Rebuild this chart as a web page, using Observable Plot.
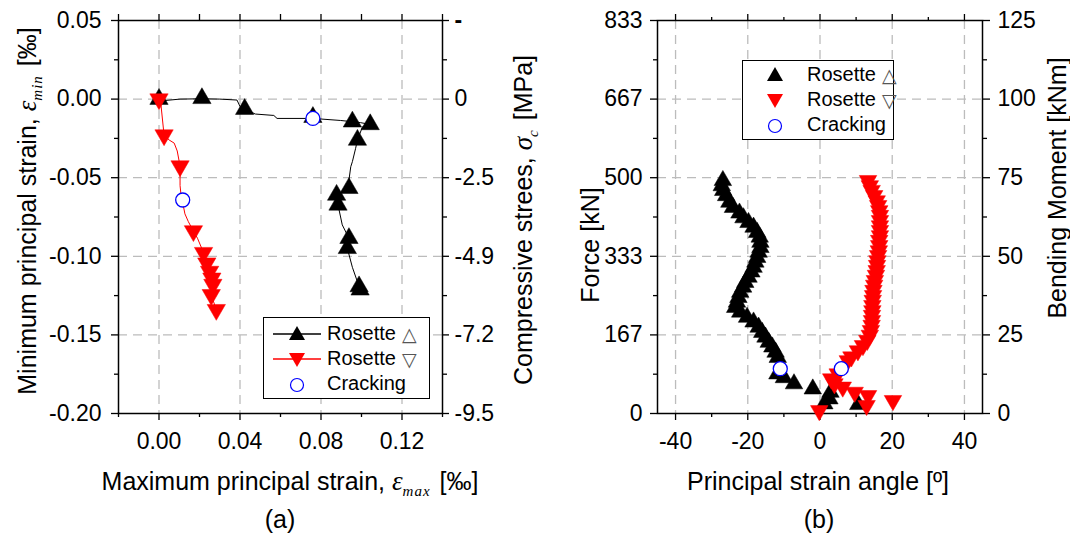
<!DOCTYPE html>
<html>
<head>
<meta charset="utf-8">
<script src="https://cdn.jsdelivr.net/npm/d3@7"></script>
<script src="https://cdn.jsdelivr.net/npm/@observablehq/plot@0.6"></script>
<style>
  html, body { margin: 0; padding: 0; background: #fff; }
  #wrap { position: relative; width: 1070px; height: 537px; overflow: hidden; font-family: "Liberation Sans", Arial, sans-serif; color: #000; }
  .pl { position: absolute; top: 0; }
  .lbl { position: absolute; white-space: nowrap; font-size: 25px; line-height: 28px; transform: translate(-50%, -50%); }
  .rot { transform: translate(-50%, -50%) rotate(-90deg); }
  .gk { font-family: "Liberation Serif", "Times New Roman", serif; font-style: italic; font-size: 27px; line-height: 20px; }
  .sub { font-family: "Liberation Serif", "Times New Roman", serif; font-style: italic; font-size: 15px; line-height: 10px; letter-spacing: 1px; position: relative; top: 6px; margin-right: 2px; }
  .legend { position: absolute; border: 1.5px solid #000; background: #fff; box-sizing: border-box; }
  .row { position: absolute; left: 0; height: 25px; display: flex; align-items: center; font-size: 20px; }
  .row svg { flex: none; }
  .sym { font-family: "DejaVu Sans", sans-serif; color: #555; font-size: 19px; margin-left: 6px; }
</style>
</head>
<body>
<div id="wrap"></div>
<script>
// ---------- Panel (a) data ----------
// Rosette △ : recorded path (max principal strain, min principal strain) in ‰
const upPathA = [
  [0, 0], [0.002, -0.001], [0.0104, 0], [0.0212, 0.0002], [0.030, 0], [0.0385, -0.0006],
  [0.0401, -0.0049], [0.0423, -0.0064], [0.0476, -0.0095], [0.0567, -0.0104], [0.0583, -0.0123],
  [0.076, -0.0123], [0.0897, -0.0136], [0.0955, -0.0144], [0.0996, -0.015], [0.1043, -0.0161],
  [0.1005, -0.0176], [0.098, -0.026], [0.0971, -0.0313], [0.0955, -0.0398], [0.0947, -0.043],
  [0.0938, -0.0515], [0.0938, -0.0567], [0.0877, -0.061], [0.0884, -0.0673], [0.0905, -0.08],
  [0.0938, -0.0885], [0.093, -0.0949], [0.0955, -0.107], [0.0988, -0.1192], [0.0993, -0.1213]
];
const upMarksA = [
  [0, 0], [0.0212, 0.0005], [0.0423, -0.0064], [0.076, -0.0115], [0.0955, -0.0144], [0.1043, -0.0161],
  [0.098, -0.026], [0.0938, -0.0567], [0.0877, -0.061], [0.0884, -0.0673], [0.0938, -0.0885],
  [0.093, -0.0949], [0.0988, -0.1192], [0.0993, -0.1213]
];
// Rosette ▽
const downPathA = [
  [0, 0], [0.001, -0.004], [0.0025, -0.0229], [0.005, -0.026], [0.0075, -0.028], [0.009, -0.033],
  [0.0104, -0.0426], [0.0104, -0.055], [0.011, -0.0625], [0.0118, -0.0665], [0.0128, -0.073],
  [0.0145, -0.078], [0.017, -0.0839], [0.019, -0.0885], [0.022, -0.0977], [0.0236, -0.1044],
  [0.025, -0.1097], [0.0261, -0.114], [0.0266, -0.118], [0.0258, -0.1245], [0.0283, -0.134]
];
const downMarksA = [
  [0, 0], [0.0025, -0.0229], [0.0104, -0.0426], [0.017, -0.0839], [0.022, -0.0977], [0.0236, -0.1044],
  [0.025, -0.1097], [0.0261, -0.114], [0.0266, -0.118], [0.0258, -0.1245], [0.0283, -0.134]
];
const crackA = [[0.076, -0.0123], [0.0117, -0.0642]];

const xTicksA = [0, 0.04, 0.08, 0.12];
const xMinorA = [-0.02, 0.02, 0.06, 0.10, 0.14];
const yTicksA = [0.05, 0, -0.05, -0.10, -0.15, -0.20];
const yMinorA = [0.025, -0.025, -0.075, -0.125, -0.175];
const yGridA = [0, -0.05, -0.10, -0.15];
const strainLabelsA = ["0.05", "0.00", "-0.05", "-0.10", "-0.15", "-0.20"];
const stressLabelsA = ["-", "0", "-2.5", "-4.9", "-7.2", "-9.5"];
const xLabelsA = ["0.00", "0.04", "0.08", "0.12"];

// ---------- Panel (b) data ----------
// [principal strain angle (º), force (kN)]
const upB = [
  [10.6, 19], [1.2, 20.5], [2.6, 31], [2.9, 45], [-2.0, 52], [-7.2, 63], [-10.0, 76], [-11.8, 84],
  [-11.7, 119], [-12.3, 130], [-13.2, 141], [-14.2, 151], [-15.1, 162], [-16.0, 172], [-17.0, 183],
  [-18.4, 194], [-20.2, 204], [-22.1, 215], [-23.5, 225], [-23.0, 236], [-22.6, 246], [-22.1, 257],
  [-21.3, 268], [-20.7, 278], [-19.8, 289], [-19.0, 300], [-18.4, 310], [-17.9, 321], [-17.4, 331],
  [-17.0, 342], [-16.5, 352], [-16.5, 363], [-16.7, 374], [-17.4, 384], [-18.4, 395], [-19.8, 405],
  [-21.2, 415], [-22.3, 425], [-24.1, 437], [-25.1, 448], [-26.0, 462], [-26.8, 473], [-27.2, 483],
  [-26.9, 494]
];
const downB = [
  [-0.2, 6], [12.9, 17], [20.2, 27.5], [13.3, 38], [9.6, 45], [6.3, 56], [4.0, 63], [3.1, 73.5],
  [4.9, 84], [7.7, 112], [8.7, 120], [10.5, 133], [11.9, 144], [13.1, 155], [13.8, 166], [14.1, 176],
  [14.3, 187], [14.4, 197], [14.4, 208], [14.5, 218], [14.5, 229], [14.6, 240], [14.7, 250],
  [14.8, 261], [15.0, 272], [15.2, 282], [15.5, 293], [15.7, 303], [15.8, 314], [15.9, 324],
  [16.1, 335], [16.3, 345], [16.4, 356], [16.4, 367], [16.6, 377], [16.6, 388], [16.6, 398],
  [16.6, 409], [16.6, 420], [16.4, 430], [16.1, 441], [15.7, 451], [15.0, 462], [14.3, 473],
  [13.8, 483], [13.3, 494]
];
const crackB = [[-11.0, 95], [5.9, 95]];

const xTicksB = [-40, -20, 0, 20, 40];
const xMinorB = [-30, -10, 10, 30];
const forceMax = 2500 / 3;
const yTicksB = [0, 1, 2, 3, 4, 5].map(k => k * forceMax / 5);
const yMinorB = [0.5, 1.5, 2.5, 3.5, 4.5].map(k => k * forceMax / 5);
const yGridB = yTicksB.slice(1, 5);
const forceLabelsB = ["0", "167", "333", "500", "667", "833"];
const momentLabelsB = ["0", "25", "50", "75", "100", "125"];
const xLabelsB = ["-40", "-20", "0", "20", "40"];

// ---------- helpers ----------
const sqrt3 = Math.sqrt(3);
const triangleDown = {
  draw(context, size) {
    const y = -Math.sqrt(size / (sqrt3 * 3));
    context.moveTo(0, -y * 2);
    context.lineTo(-sqrt3 * y, y);
    context.lineTo(sqrt3 * y, y);
    context.closePath();
  }
};
const lab = (vals, labels) => { const m = new Map(vals.map((v, i) => [v, labels[i]])); return d => m.get(d) ?? ""; };
const none = () => "";
const FS = 23;
const gridStyle = {stroke: "#bcbcbc", strokeOpacity: 1, strokeWidth: 1.3, strokeDasharray: "9,6"};
const plotStyle = {fontFamily: "'Liberation Sans', Arial, sans-serif", fontSize: FS + "px", color: "#000", background: "transparent", overflow: "visible"};
const fx = d => d[0], fy = d => d[1];
const ax = {label: null, strokeWidth: 1.3, fontSize: FS};

// ---------- Panel (a) ----------
const plotA = Plot.plot({
  width: 535, height: 537,
  marginLeft: 118, marginRight: 93, marginTop: 20, marginBottom: 124,
  x: {domain: [-0.02, 0.14]},
  y: {domain: [-0.20, 0.05]},
  style: plotStyle,
  marks: [
    Plot.gridX(xTicksA, gridStyle),
    Plot.gridY(yGridA, gridStyle),
    Plot.axisX(xTicksA, {...ax, anchor: "bottom", tickSize: 7, tickPadding: 12, tickFormat: lab(xTicksA, xLabelsA)}),
    Plot.axisX(xMinorA, {...ax, anchor: "bottom", tickSize: 4, tickFormat: none}),
    Plot.axisX(xTicksA.concat(xMinorA), {...ax, anchor: "top", tickSize: 7, tickFormat: none}),
    Plot.axisY(yTicksA, {...ax, anchor: "left", tickSize: 7, tickPadding: 10, tickFormat: lab(yTicksA, strainLabelsA)}),
    Plot.axisY(yMinorA, {...ax, anchor: "left", tickSize: 4, tickFormat: none}),
    Plot.axisY(yTicksA.slice(1), {...ax, anchor: "right", tickSize: 6, tickPadding: 6, tickFormat: lab(yTicksA, stressLabelsA)}),
    Plot.axisY(yTicksA.slice(0, 1), {...ax, anchor: "right", tickSize: 6, tickPadding: 6, fontWeight: "bold", tickFormat: lab(yTicksA, stressLabelsA)}),
    Plot.axisY(yMinorA, {...ax, anchor: "right", tickSize: 4, tickFormat: none}),
    Plot.frame({stroke: "#000", strokeWidth: 1.5}),
    Plot.line(upPathA, {x: fx, y: fy, stroke: "#000", strokeWidth: 1, curve: "linear"}),
    Plot.line(downPathA, {x: fx, y: fy, stroke: "#ff0000", strokeWidth: 1, curve: "linear"}),
    Plot.dot(upMarksA, {x: fx, y: fy, symbol: "triangle", r: 6.8, fill: "#000", stroke: "#000", strokeWidth: 0.5}),
    Plot.dot(downMarksA, {x: fx, y: fy, symbol: triangleDown, r: 6.8, fill: "#ff0000", stroke: "#ff0000", strokeWidth: 0.5}),
    Plot.dot(crackA, {x: fx, y: fy, r: 7, fill: "#fff", stroke: "#0000ff", strokeWidth: 1.3})
  ]
});
plotA.classList.add("pl");
plotA.style.left = "0px";

// ---------- Panel (b) ----------
const plotB = Plot.plot({
  width: 535, height: 537,
  marginLeft: 122, marginRight: 88, marginTop: 20, marginBottom: 124,
  x: {domain: [-45, 45]},
  y: {domain: [0, forceMax]},
  style: plotStyle,
  marks: [
    Plot.gridX(xTicksB, gridStyle),
    Plot.gridY(yGridB, gridStyle),
    Plot.axisX(xTicksB, {...ax, anchor: "bottom", tickSize: 7, tickPadding: 12, tickFormat: lab(xTicksB, xLabelsB)}),
    Plot.axisX(xMinorB, {...ax, anchor: "bottom", tickSize: 4, tickFormat: none}),
    Plot.axisX(xTicksB, {...ax, anchor: "top", tickSize: 7, tickFormat: none}),
    Plot.axisX(xMinorB, {...ax, anchor: "top", tickSize: 4, tickFormat: none}),
    Plot.axisY(yTicksB, {...ax, anchor: "left", tickSize: 7, tickPadding: 8, tickFormat: lab(yTicksB, forceLabelsB)}),
    Plot.axisY(yMinorB, {...ax, anchor: "left", tickSize: 4, tickFormat: none}),
    Plot.axisY(yTicksB, {...ax, anchor: "right", tickSize: 7, tickPadding: 8, tickFormat: lab(yTicksB, momentLabelsB)}),
    Plot.axisY(yMinorB, {...ax, anchor: "right", tickSize: 4, tickFormat: none}),
    Plot.frame({stroke: "#000", strokeWidth: 1.5}),
    Plot.dot(upB, {x: fx, y: fy, symbol: "triangle", r: 6.5, fill: "#000", stroke: "#000", strokeWidth: 0.5}),
    Plot.dot(downB, {x: fx, y: fy, symbol: triangleDown, r: 6.5, fill: "#ff0000", stroke: "#ff0000", strokeWidth: 0.5}),
    Plot.dot(crackB, {x: fx, y: fy, r: 7, fill: "#fff", stroke: "#0000ff", strokeWidth: 1.3})
  ]
});
plotB.classList.add("pl");
plotB.style.left = "535px";

const wrap = document.getElementById("wrap");
wrap.appendChild(plotA);
wrap.appendChild(plotB);

// ---------- titles ----------
const texts = [
  {x: 27, y: 211, rot: true, html: 'Minimum principal strain, <span class="gk">ε</span><span class="sub">min</span> [‰]'},
  {x: 523, y: 220, rot: true, html: 'Compressive strees, <span class="gk">σ</span><span class="sub">c</span> [MPa]'},
  {x: 590, y: 245, rot: true, html: 'Force [kN]'},
  {x: 1057, y: 188, rot: true, html: 'Bending Moment [kNm]'},
  {x: 290, y: 481, rot: false, html: 'Maximum principal strain, <span class="gk">ε</span><span class="sub">max</span> [‰]'},
  {x: 280, y: 519, rot: false, html: '(a)'},
  {x: 818, y: 481, rot: false, html: 'Principal strain angle [º]'},
  {x: 819, y: 519, rot: false, html: '(b)'}
];
for (const t of texts) {
  const d = document.createElement("div");
  d.className = "lbl" + (t.rot ? " rot" : "");
  d.style.left = t.x + "px";
  d.style.top = t.y + "px";
  d.innerHTML = t.html;
  wrap.appendChild(d);
}

// ---------- legends ----------
const upGlyph = (line) => `<svg width="${line ? 52 : 40}" height="24">${line ? '<line x1="2" y1="12" x2="50" y2="12" stroke="COL" stroke-width="1.3"/>' : ''}<path d="M${line ? 26 : 20},4 L${line ? 34 : 28},18 L${line ? 18 : 12},18 Z" fill="COL"/></svg>`;
const downGlyph = (line) => `<svg width="${line ? 52 : 40}" height="24">${line ? '<line x1="2" y1="12" x2="50" y2="12" stroke="COL" stroke-width="1.3"/>' : ''}<path d="M${line ? 18 : 12},6 L${line ? 34 : 28},6 L${line ? 26 : 20},20 Z" fill="COL"/></svg>`;
const circGlyph = (line) => `<svg width="${line ? 52 : 40}" height="24"><circle cx="${line ? 26 : 20}" cy="13" r="6.5" fill="#fff" stroke="#0000ff" stroke-width="1.2"/></svg>`;
const legendLabels = ["Rosette", "Rosette", "Cracking"];
const legendSyms = ["△", "▽", ""];
function legend(left, top, w, h, line, gap, pad) {
  const box = document.createElement("div");
  box.className = "legend";
  Object.assign(box.style, {left: left + "px", top: top + "px", width: w + "px", height: h + "px"});
  const glyphs = [upGlyph(line).replace(/COL/g, "#000"), downGlyph(line).replace(/COL/g, "#ff0000"), circGlyph(line)];
  glyphs.forEach((g, i) => {
    const r = document.createElement("div");
    r.className = "row";
    r.style.top = (pad + i * 25) + "px";
    r.style.left = (line ? 7 : 12) + "px";
    r.innerHTML = g + `<span style="margin-left:${gap}px">${legendLabels[i]}</span>` + (legendSyms[i] ? `<span class="sym">${legendSyms[i]}</span>` : "");
    box.appendChild(r);
  });
  wrap.appendChild(box);
}
legend(263, 317, 167, 82, true, 4, 3);
legend(742, 60, 152, 80, false, 12, 1);
</script>
</body>
</html>
